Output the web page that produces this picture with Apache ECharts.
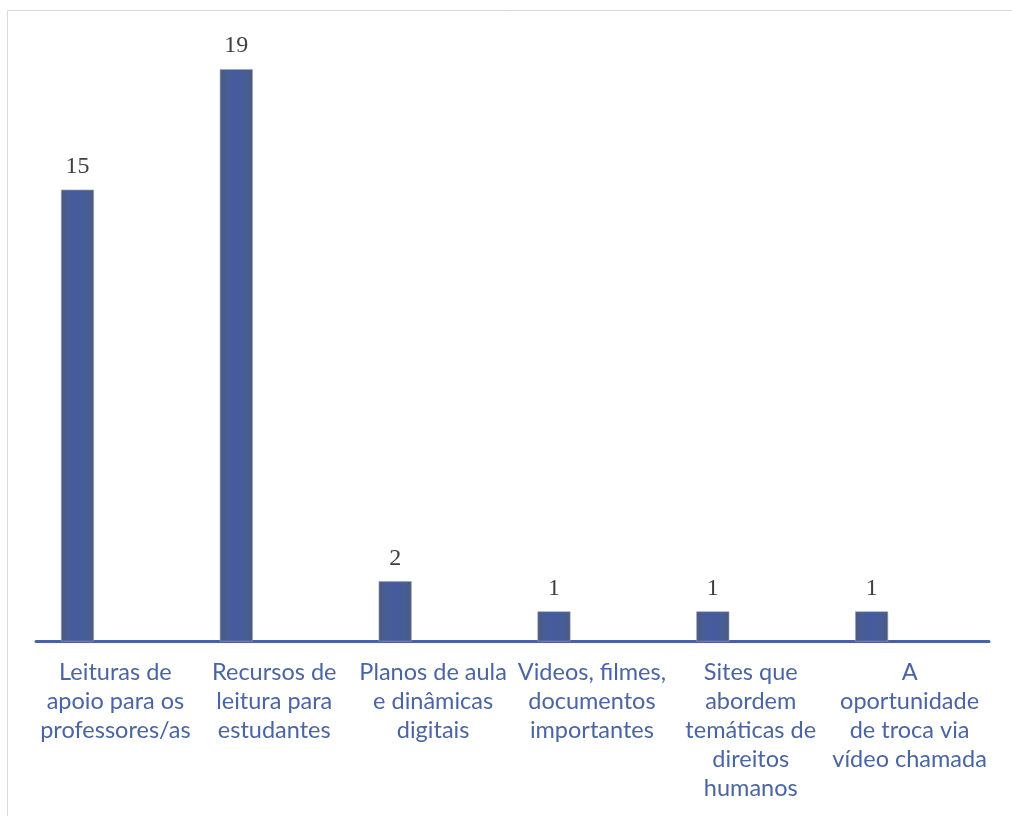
<!DOCTYPE html>
<html>
<head>
<meta charset="utf-8">
<script src="https://cdn.jsdelivr.net/npm/echarts@6/dist/echarts.min.js"></script>
<style>
html,body{margin:0;padding:0;background:#fff;}
#chart{width:1012px;height:816px;}
</style>
</head>
<body>
<div id="chart"></div>
<script>
const categories = [
  "Leituras de\napoio para os\nprofessores/as",
  "Recursos de\nleitura para\nestudantes",
  "Planos de aula\ne dinâmicas\ndigitais",
  "Videos, filmes,\ndocumentos\nimportantes",
  "Sites que\nabordem\ntemáticas de\ndireitos\nhumanos",
  "A\noportunidade\nde troca via\nvídeo chamada"
];
const values = [15, 19, 2, 1, 1, 1];
const emptySeries = [null, null, null, null, null, null];

const chart = echarts.init(document.getElementById('chart'));
const barColor = {
  type: 'linear', x: 0, y: 0, x2: 1, y2: 0,
  colorStops: [
    {offset: 0, color: '#4d5a7f'},
    {offset: 0.25, color: '#475d98'},
    {offset: 0.5, color: '#445b9e'},
    {offset: 0.75, color: '#475d98'},
    {offset: 1, color: '#4d5a7f'}
  ]
};
chart.setOption({
  animation: false,
  graphic: [{
    type: 'rect',
    shape: {x: 7.5, y: 10.5, width: 1200, height: 1000},
    style: {fill: 'none', stroke: '#d9d9d9', lineWidth: 1},
    silent: true
  }],
  grid: {left: 36, right: 23, top: 39, bottom: 174.5, containLabel: false},
  xAxis: {
    type: 'category',
    data: categories,
    axisLine: {lineStyle: {color: '#4a62a0', width: 3}},
    axisTick: {show: false},
    axisLabel: {
      interval: 0,
      margin: 16,
      fontFamily: 'Lato',
      fontSize: 23.5,
      lineHeight: 29,
      color: '#4a64a4',
      verticalAlign: 'top'
    }
  },
  yAxis: {
    type: 'value',
    min: 0,
    max: 20,
    show: false,
    splitLine: {show: false}
  },
  series: [
    {
      type: 'bar',
      data: values,
      barWidth: 33,
      barGap: '130%',
      itemStyle: {color: barColor, borderColor: '#9aa3bd', borderWidth: 0.6},
      label: {
        show: true,
        position: 'top',
        distance: 11,
        fontFamily: 'Liberation Serif',
        fontSize: 24,
        color: '#404040'
      }
    },
    {
      type: 'bar',
      data: emptySeries,
      barWidth: 33
    }
  ]
});
</script>
</body>
</html>
